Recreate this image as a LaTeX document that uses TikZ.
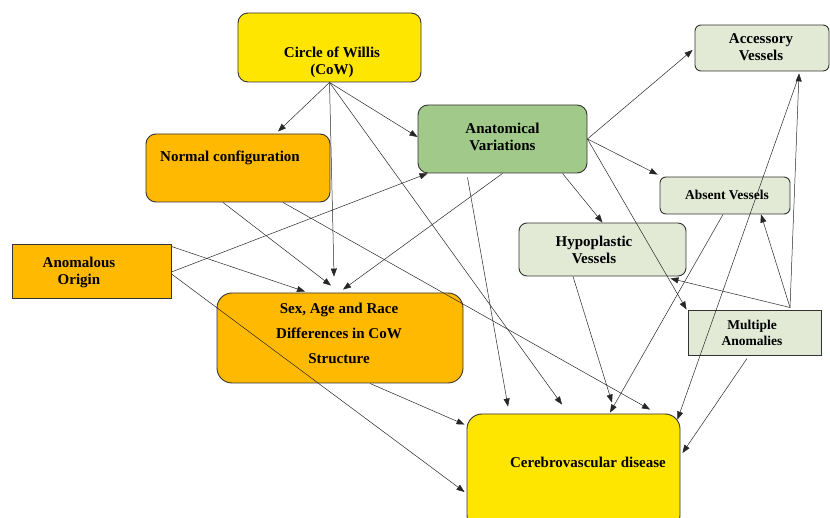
\documentclass[tikz,border=0pt]{standalone}
\usepackage{fontspec}
\setmainfont{Liberation Serif}
\usetikzlibrary{arrows.meta}
\definecolor{cowyellow}{HTML}{FFE600}
\definecolor{cwdorange}{HTML}{FFB900}
\definecolor{anatgreen}{HTML}{A0C98A}
\definecolor{vesselgreen}{HTML}{E2EAD6}
\definecolor{edgegray}{HTML}{333333}
\tikzset{
  box/.style={draw=edgegray, line width=0.9pt, rounded corners=10pt},
  flatbox/.style={draw=edgegray, line width=1pt},
  txt/.style={font=\bfseries\fontsize{15}{17}\selectfont, align=center, inner sep=0pt},
  arr/.style={-{Triangle[length=8pt,width=6pt]}, line width=0.5pt, draw=black!85}
}
\begin{document}
\begin{tikzpicture}[x=1pt,y=-1pt]
\clip (0,0) rectangle (830,518);
\node[box, fill=cowyellow, minimum width=183pt, minimum height=69pt] (cow) at (329.5,47.5){};
\node[txt] (cowtxt) at (332,62){Circle of Willis\\(CoW)};
\node[box, fill=cwdorange, minimum width=184pt, minimum height=68pt] (normal) at (238,168){};
\node[txt] (normaltxt) at (230,158){Normal configuration};
\node[flatbox, fill=cwdorange, minimum width=159pt, minimum height=54pt] (anom) at (91.5,272){};
\node[txt] (anomtxt) at (79,272){Anomalous\\Origin};
\node[box, rounded corners=15pt, fill=cwdorange, minimum width=246pt, minimum height=90pt] (sex) at (340,338){};
\node[txt, font=\bfseries\fontsize{15}{25}\selectfont] (sextxt) at (339,333){Sex, Age and Race\\Differences in CoW\\Structure};
\node[box, fill=anatgreen, minimum width=169pt, minimum height=68pt] (anat) at (502.5,139){};
\node[txt] (anattxt) at (502.5,137){Anatomical\\Variations};
\node[box, rounded corners=6pt, fill=vesselgreen, minimum width=134pt, minimum height=46pt] (acc) at (762,48){};
\node[txt] (acctxt) at (761,47){Accessory\\Vessels};
\node[box, rounded corners=6pt, fill=vesselgreen, minimum width=130pt, minimum height=37pt] (absent) at (725,195.5){};
\node[txt, font=\bfseries\fontsize{13.5}{15}\selectfont] (absenttxt) at (727,195){Absent Vessels};
\node[box, rounded corners=8pt, fill=vesselgreen, minimum width=167pt, minimum height=53pt] (hypo) at (602.5,249.5){};
\node[txt] (hypotxt) at (594,249.5){Hypoplastic\\Vessels};
\node[flatbox, fill=vesselgreen, minimum width=133pt, minimum height=45pt] (multi) at (754.5,333.5){};
\node[txt, font=\bfseries\fontsize{13.5}{16}\selectfont] (multitxt) at (752,333){Multiple\\Anomalies};
\node[box, rounded corners=15pt, fill=cowyellow, minimum width=213pt, minimum height=116pt] (cereb) at (573.5,472){};
\node[txt] (cerebtxt) at (588,462){Cerebrovascular disease};

\draw[arr] (cow.south) -- ([xshift=40pt,yshift=2pt]normal.north);
\draw[arr] (cow.south) -- ([yshift=2pt]anat.west);
\draw[arr] (cow.south) -- ([xshift=-6pt,yshift=16pt]sex.north);
\draw[arr] (cow.south) -- ([xshift=-11.5pt,yshift=9pt]cereb.north);
\draw[arr] ([xshift=-15pt]normal.south) -- ([xshift=-9pt,yshift=7pt]sex.north);
\draw[arr] ([xshift=45pt]normal.south) -- ([xshift=76.5pt,yshift=4pt]cereb.north);
\draw[arr] ([yshift=-2pt]anom.north east) -- ([xshift=-35pt,yshift=1pt]sex.north);
\draw[arr] (anom.east) -- ([xshift=10pt]anat.south west);
\draw[arr] ([yshift=-2pt]anom.east) -- ([xshift=-2pt,yshift=-20pt]cereb.west);
\draw[arr] (anat.south) -- ([xshift=3pt,yshift=3pt]sex.north);
\draw[arr] ([xshift=-35pt,yshift=-4pt]anat.south) -- ([xshift=-65.5pt,yshift=7pt]cereb.north);
\draw[arr] ([xshift=60pt]anat.south) -- (hypo.north);
\draw[arr] (anat.east) -- ([xshift=-2pt,yshift=-2pt]acc.west);
\draw[arr] (anat.east) -- ([xshift=-2pt,yshift=2pt]absent.north west);
\draw[arr] (anat.east) -- ([xshift=-1pt,yshift=1pt]multi.north west);
\draw[arr] ([xshift=-2pt]absent.south) -- ([xshift=36.5pt,yshift=1pt]cereb.north);
\draw[arr] ([xshift=-29.5pt]hypo.south) -- ([xshift=38.5pt,yshift=11pt]cereb.north);
\draw[arr] ([xshift=35.5pt,yshift=3pt]multi.north) -- ([xshift=-16pt,yshift=-2pt]hypo.south east);
\draw[arr] ([xshift=35.5pt,yshift=3pt]multi.north) -- ([xshift=36pt]absent.south);
\draw[arr] ([xshift=35.5pt,yshift=3pt]multi.north) -- ([xshift=37pt,yshift=-2pt]acc.south);
\draw[arr] ([xshift=37pt,yshift=-4pt]acc.south) -- ([xshift=-3pt,yshift=-6pt]cereb.north east);
\draw[arr] ([xshift=-7.5pt,yshift=-2pt]multi.south) -- ([xshift=2pt,yshift=19pt]cereb.east);
\draw[arr] ([xshift=30pt]sex.south) -- ([xshift=-2pt,yshift=-11pt]cereb.north west);

\end{tikzpicture}
\end{document}
